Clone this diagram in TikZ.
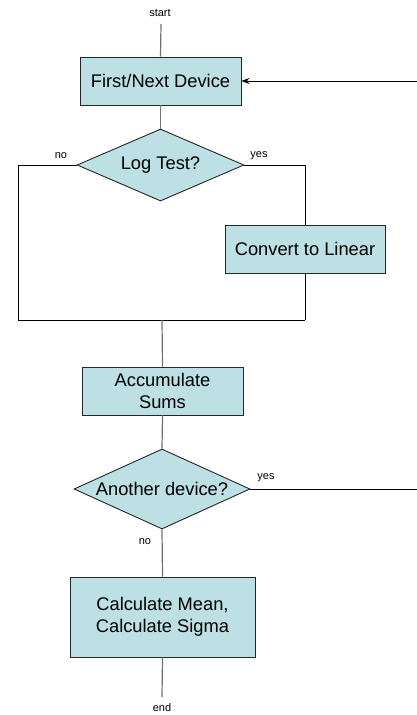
\documentclass[tikz,border=0pt]{standalone}
\usepackage{fontspec}
\setmainfont{Liberation Sans}
\usetikzlibrary{shapes.geometric,arrows.meta}
\definecolor{boxfill}{HTML}{BCE0E3}
\definecolor{vline}{HTML}{707070}
\tikzset{
  procbox/.style={draw=black!85, fill=boxfill, line width=0.9pt, inner sep=0pt, align=center, font=\fontsize{18.3}{21.5}\selectfont},
  decide/.style={draw=black!85, fill=boxfill, line width=0.9pt, diamond, inner sep=0pt, align=center, font=\fontsize{18.3}{21.5}\selectfont},
  vconn/.style={draw=vline, line width=1.2pt},
  hconn/.style={draw=black, line width=0.9pt},
  small/.style={font=\fontsize{11}{12}\selectfont, inner sep=0pt}
}
\begin{document}
\begin{tikzpicture}[x=1pt,y=-1pt]
\useasboundingbox (0,0) rectangle (417,715);
\node[small] (start) at (160,13) {start};
\coordinate (starttop) at (161,24);
\node[procbox, minimum width=161pt, minimum height=48pt] (dev) at (160.5,81) {First/Next Device};
\node[decide, aspect=2.32, minimum width=167pt, minimum height=72pt] (log) at (160.5,165) {Log Test?};
\node[small] (no1) at (61,156) {no};
\node[small] (yes1) at (259,156) {yes};
\node[procbox, minimum width=160pt, minimum height=48pt] (conv) at (305,249) {Convert to Linear};
\coordinate (nlt) at (18,165);
\coordinate (nlb) at (18,320);
\coordinate (yrt) at (305,165);
\coordinate (mrg) at (305,320);
\coordinate (mmid) at (162,320);
\node[procbox, minimum width=161pt, minimum height=48pt] (acc) at (162.5,391) {Accumulate\\Sums};
\node[decide, aspect=2.2, minimum width=176pt, minimum height=80pt] (ano) at (162,489) {Another device?};
\node[small] (yes2) at (266,478) {yes};
\node[small] (no2) at (145,542) {no};
\coordinate (loopr) at (417,489);
\coordinate (looprt) at (417,81);
\node[procbox, minimum width=185pt, minimum height=80pt] (calc) at (162.5,617) {Calculate Mean,\\Calculate Sigma};
\coordinate (endpt) at (162,697);
\node[small] (endl) at (162,708) {end};

\draw[vconn] (starttop) -- (dev.north);
\draw[vconn] (dev.south) -- (log.north);
\draw[hconn] (log.west) -- (nlt) -- (nlb) -- (mrg);
\draw[hconn] (log.east) -- (yrt) -- (conv.north);
\draw[hconn] (conv.south) -- (mrg);
\draw[vconn] (mmid) -- (acc.north);
\draw[vconn] (acc.south) -- (ano.north);
\draw[hconn] (ano.east) -- (loopr);
\draw[hconn, -{Stealth[length=8pt,width=6pt]}] (looprt) -- (dev.east);
\draw[vconn] (ano.south) -- (calc.north);
\draw[vconn] (calc.south) -- (endpt);
\end{tikzpicture}
\end{document}
